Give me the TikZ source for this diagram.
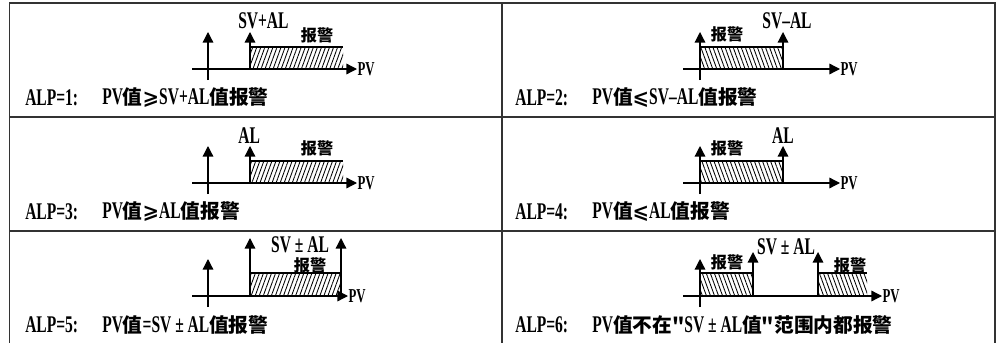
\documentclass[tikz,border=0pt]{standalone}
\usepackage{fontspec}
\setmainfont{Liberation Serif}[FakeStretch=0.65]
\newfontfamily\cjk{Noto Sans CJK SC}
\newfontfamily\symf{DejaVu Sans}
\usetikzlibrary{arrows.meta,patterns.meta}
\definecolor{framegray}{HTML}{333333}
\newcommand{\zh}[1]{{\cjk\fontsize{14}{17}\selectfont #1}}
\newcommand{\cmpsym}[1]{{\symf\fontsize{14}{17}\selectfont #1}}

\begin{document}
\begin{tikzpicture}[x=0.025cm, y=-0.025cm,
  frame/.style={framegray, line width=1.4pt},
  axis/.style={line width=0.9pt, -{Triangle[length=7.5pt,width=7.5pt]}},
  edge/.style={line width=0.9pt},
  hatchr/.style={pattern={Lines[angle=70,distance=2.7pt,line width=0.6pt]}},
  hatchl/.style={pattern={Lines[angle=110,distance=2.7pt,line width=0.6pt]}},
  lab/.style={font=\fontsize{17}{19}\selectfont\bfseries, inner sep=0pt},
  pvlab/.style={font=\fontsize{14}{16}\selectfont\bfseries, inner sep=0pt, anchor=west},
  alarm/.style={font=\fontsize{11.5}{14}\selectfont\cjk\bfseries, inner sep=0pt},
  caption/.style={font=\fontsize{17}{19}\selectfont\bfseries, inner sep=0pt, anchor=west}]
  \useasboundingbox (0,0) rectangle (1004,342);

  % table frame
  \draw[frame] (9.5,345) -- (9.5,3) -- (995,3) -- (995,345);
  \draw[frame] (502,3) -- (502,345);
  \draw[frame] (9.5,117) -- (995,117);
  \draw[frame] (9.5,231) -- (995,231);

  % ALP=1
  \fill[hatchr] (250,47) rectangle (343,69);
  \draw[edge] (250,47) -- (343,47);
  \draw[axis] (192,69) -- (357,69) node[pvlab] (pv1) {PV};
  \draw[axis] (208,80) -- (208,32);
  \draw[axis] (250,69) -- (250,32);
  \node[lab, anchor=west] (sv1) at (238,21) {SV+AL};
  \node[alarm] (al1) at (317,35) {报警};
  \node[caption] (alp1) at (25,98) {ALP=1:};
  \node[caption] (txt1) at (102,98) {PV\zh{值}\cmpsym{⩾}SV+AL\zh{值报警}};

  % ALP=2
  \begin{scope}[shift={(491,0)}]
    \fill[hatchl] (209,47) rectangle (292,69);
    \draw[edge] (209,47) -- (292,47);
    \draw[axis] (192,69) -- (349,69) node[pvlab] (pv2) {PV};
    \draw[axis] (209,80) -- (209,32);
    \draw[axis] (292,69) -- (292,32);
    \node[lab] (sv2) at (296,21) {SV--AL};
    \node[alarm] (al2) at (236,34) {报警};
    \node[caption] (alp2) at (24,98) {ALP=2:};
    \node[caption] (txt2) at (101,98) {PV\zh{值}\cmpsym{⩽}SV--AL\zh{值报警}};
  \end{scope}

  % ALP=3
  \begin{scope}[shift={(0,114)}]
    \fill[hatchr] (250,47) rectangle (343,69);
    \draw[edge] (250,47) -- (343,47);
    \draw[axis] (192,69) -- (357,69) node[pvlab] (pv3) {PV};
    \draw[axis] (208,80) -- (208,32);
    \draw[axis] (250,69) -- (250,32);
    \node[lab, anchor=west] (sv3) at (238,22) {AL};
    \node[alarm] (al3) at (317,34) {报警};
    \node[caption] (alp3) at (25,98) {ALP=3:};
    \node[caption] (txt3) at (102,98) {PV\zh{值}\cmpsym{⩾}AL\zh{值报警}};
  \end{scope}

  % ALP=4
  \begin{scope}[shift={(491,114)}]
    \fill[hatchl] (209,47) rectangle (292,69);
    \draw[edge] (209,47) -- (292,47);
    \draw[axis] (192,69) -- (349,69) node[pvlab] (pv4) {PV};
    \draw[axis] (209,80) -- (209,32);
    \draw[axis] (292,69) -- (292,32);
    \node[lab] (sv4) at (292,22) {AL};
    \node[alarm] (al4) at (236,34) {报警};
    \node[caption] (alp4) at (24,98) {ALP=4:};
    \node[caption] (txt4) at (101,98) {PV\zh{值}\cmpsym{⩽}AL\zh{值报警}};
  \end{scope}

  % ALP=5
  \begin{scope}[shift={(0,227)}]
    \fill[hatchr] (250,46) rectangle (341,69);
    \draw[edge] (250,46) -- (341,46);
    \draw[axis] (192,69) -- (348,69) node[pvlab] (pv5) {PV};
    \draw[axis] (208,80) -- (208,32);
    \draw[axis] (250,69) -- (250,11);
    \draw[axis] (341,69) -- (341,11);
    \node[lab] (sv5) at (300,18) {SV ± AL};
    \node[alarm] (al5) at (310,38) {报警};
    \node[caption] (alp5) at (25,98) {ALP=5:};
    \node[caption] (txt5) at (102,98) {PV\zh{值}=SV ± AL\zh{值报警}};
  \end{scope}

  % ALP=6
  \begin{scope}[shift={(491,227)}]
    \fill[hatchl] (209,46) rectangle (262,69);
    \fill[hatchl] (327,46) rectangle (376,69);
    \draw[edge] (209,46) -- (262,46);
    \draw[edge] (327,46) -- (376,46);
    \draw[axis] (192,69) -- (391,69) node[pvlab] (pv6) {PV};
    \draw[axis] (209,80) -- (209,32);
    \draw[axis] (262,69) -- (262,25);
    \draw[axis] (327,69) -- (327,25);
    \node[lab] (sv6) at (295,20) {SV ± AL};
    \node[alarm] (al6a) at (236,35) {报警};
    \node[alarm] (al6b) at (359,38) {报警};
    \node[caption] (alp6) at (24,98) {ALP=6:};
    \node[caption] (txt6) at (101,98) {PV\zh{值不在"}SV ± AL\zh{值"范围内都报警}};
  \end{scope}
\end{tikzpicture}
\end{document}
